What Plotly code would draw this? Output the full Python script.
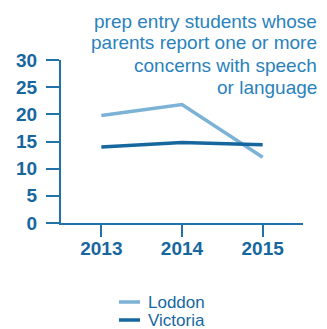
import plotly.graph_objects as go

# Survey years and the share of prep entry students (%) per region
years = [2013, 2014, 2015]
loddon = [19.8, 21.8, 12.1]
victoria = [14.0, 14.8, 14.4]
series_names = ["Loddon", "Victoria"]
y_ticks = [0, 5, 10, 15, 20, 25, 30]
heading_lines = [
    "prep entry students whose",
    "parents report one or more",
    "concerns with speech",
    "or language",
]

LIGHT = "#7cb2d6"
DARK = "#17679f"
AXIS = "#2272aa"
TEXT = "#2a82bc"
FONT = "Liberation Sans, Arial, sans-serif"

# plot box in pixels
L, R, T, B = 61, 303, 60, 223
W, H = R - L, B - T

def px_x(x):
    return (x - L) / W

def px_y(y):
    return (B - y) / H

fig = go.Figure()
fig.add_trace(go.Scatter(x=years, y=loddon, mode="lines", name=series_names[0],
                         line=dict(color=LIGHT, width=3.5), showlegend=False))
fig.add_trace(go.Scatter(x=years, y=victoria, mode="lines", name=series_names[1],
                         line=dict(color=DARK, width=3.5), showlegend=False))

fig.update_layout(
    width=327, height=329,
    margin=dict(l=L, r=327 - R, t=T, b=329 - B),
    paper_bgcolor="white", plot_bgcolor="white",
    font=dict(family=FONT),
    xaxis=dict(range=[2012.5, 2015.5], tickvals=years, ticktext=[str(y) for y in years],
               showgrid=False, zeroline=False, showline=True, linecolor=AXIS, linewidth=2,
               ticks="outside", ticklen=12, tickwidth=1.5, tickcolor=AXIS,
               ticklabelstandoff=-5,
               tickfont=dict(family=FONT, size=19, color=DARK, weight="bold")),
    yaxis=dict(range=[0, 30], tickvals=y_ticks, showgrid=False, zeroline=False,
               showline=True, linecolor=AXIS, linewidth=2,
               ticks="outside", ticklen=13, tickwidth=1.5, tickcolor=AXIS,
               ticklabelstandoff=5,
               tickfont=dict(family=FONT, size=19, color=DARK, weight="bold")),
)

# Right-aligned heading above the plot, one annotation per line
for i, line in enumerate(heading_lines):
    fig.add_annotation(
        xref="paper", yref="paper", x=px_x(319), y=px_y(21 + 22 * i),
        xanchor="right", yanchor="middle", showarrow=False, text=line,
        font=dict(family=FONT, size=19, color=TEXT),
    )

# Legend drawn below the axis
legend_rows = [(series_names[0], LIGHT, 302), (series_names[1], DARK, 320)]
for name, color, ypx in legend_rows:
    yp = px_y(ypx)
    fig.add_shape(type="line", xref="paper", yref="paper",
                  x0=px_x(119), x1=px_x(140), y0=yp, y1=yp,
                  line=dict(color=color, width=3.5))
    fig.add_annotation(xref="paper", yref="paper", x=px_x(146), y=yp,
                       xanchor="left", yanchor="middle", showarrow=False, text=name,
                       font=dict(family=FONT, size=17, color=DARK))

fig.write_html("out.html")
